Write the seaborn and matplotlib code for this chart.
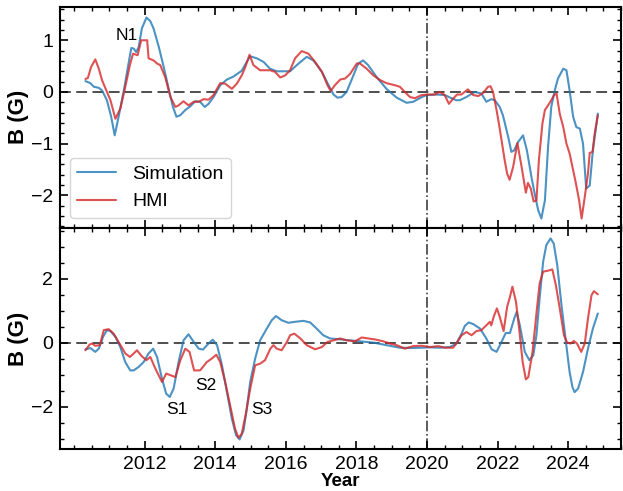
import matplotlib
matplotlib.use("Agg")
import matplotlib.pyplot as plt
import seaborn as sns
import numpy as np
import pandas as pd
from matplotlib.ticker import MultipleLocator

# ---------------- data ----------------
top_sim_year = [2010.32, 2010.46, 2010.56, 2010.70, 2010.79, 2010.93, 2011.05, 2011.15, 2011.26, 2011.41,
                2011.55, 2011.62, 2011.69, 2011.76, 2011.83, 2011.92, 2012.05, 2012.16, 2012.25, 2012.40,
                2012.54, 2012.68, 2012.80, 2012.90, 2013.01, 2013.15, 2013.29, 2013.43, 2013.57, 2013.70,
                2013.81, 2013.95, 2014.14, 2014.33, 2014.52, 2014.75, 2014.89, 2014.99, 2015.18, 2015.37,
                2015.55, 2015.74, 2016.12, 2016.31, 2016.59, 2016.78, 2017.02, 2017.21, 2017.35, 2017.46,
                2017.58, 2017.72, 2017.86, 2018.05, 2018.19, 2018.33, 2018.57, 2018.85, 2019.14, 2019.42,
                2019.61, 2019.85, 2019.99, 2020.27, 2020.50, 2020.69, 2020.83, 2020.93, 2021.11, 2021.35,
                2021.54, 2021.68, 2021.82, 2021.92, 2022.06, 2022.15, 2022.30, 2022.39, 2022.47, 2022.58,
                2022.72, 2022.83, 2022.96, 2023.05, 2023.15, 2023.24, 2023.34, 2023.43, 2023.52, 2023.62,
                2023.71, 2023.86, 2023.95, 2024.04, 2024.14, 2024.23, 2024.33, 2024.42, 2024.51, 2024.61,
                2024.70, 2024.84]
top_sim_b = [0.21, 0.17, 0.10, 0.08, 0.03, -0.16, -0.48, -0.84, -0.48, 0.03,
             0.58, 0.85, 0.84, 0.77, 0.87, 1.23, 1.44, 1.37, 1.23, 0.87,
             0.48, 0.06, -0.29, -0.48, -0.45, -0.35, -0.28, -0.18, -0.19, -0.29,
             -0.23, -0.10, 0.13, 0.24, 0.30, 0.41, 0.58, 0.69, 0.65, 0.58,
             0.45, 0.40, 0.40, 0.52, 0.68, 0.61, 0.39, 0.13, -0.05, -0.11,
             -0.10, 0.00, 0.23, 0.55, 0.61, 0.52, 0.29, 0.06, -0.11, -0.21,
             -0.19, -0.10, -0.06, -0.05, -0.06, -0.12, -0.16, -0.16, -0.10, 0.00,
             -0.03, -0.19, -0.14, -0.16, -0.29, -0.45, -0.87, -1.16, -1.13, -0.97,
             -0.84, -1.13, -1.65, -1.97, -2.29, -2.45, -2.10, -1.06, -0.29, 0.03,
             0.26, 0.45, 0.42, 0.03, -0.48, -0.68, -0.71, -1.00, -1.87, -1.81,
             -1.13, -0.42]

top_hmi_year = [2010.32, 2010.39, 2010.48, 2010.60, 2010.70, 2010.79, 2010.93, 2011.03, 2011.17, 2011.31,
                2011.45, 2011.58, 2011.67, 2011.80, 2011.90, 2012.02, 2012.07, 2012.11, 2012.25, 2012.35,
                2012.44, 2012.58, 2012.73, 2012.87, 2012.96, 2013.10, 2013.24, 2013.39, 2013.53, 2013.67,
                2013.81, 2013.95, 2014.14, 2014.28, 2014.47, 2014.61, 2014.75, 2014.85, 2014.97, 2015.08,
                2015.27, 2015.55, 2015.69, 2015.84, 2015.98, 2016.12, 2016.26, 2016.45, 2016.64, 2016.83,
                2017.02, 2017.18, 2017.27, 2017.39, 2017.54, 2017.68, 2017.82, 2018.01, 2018.10, 2018.29,
                2018.48, 2018.67, 2018.85, 2019.09, 2019.23, 2019.37, 2019.52, 2019.66, 2019.85, 2020.08,
                2020.22, 2020.36, 2020.50, 2020.62, 2020.74, 2020.85, 2020.97, 2021.16, 2021.31, 2021.45,
                2021.59, 2021.73, 2021.80, 2021.87, 2021.97, 2022.06, 2022.20, 2022.27, 2022.34, 2022.44,
                2022.56, 2022.68, 2022.80, 2022.86, 2022.94, 2023.02, 2023.10, 2023.17, 2023.27, 2023.34,
                2023.43, 2023.52, 2023.60, 2023.67, 2023.76, 2023.86, 2023.95, 2024.04, 2024.12, 2024.21,
                2024.31, 2024.38, 2024.47, 2024.56, 2024.61, 2024.69, 2024.75, 2024.84]
top_hmi_b = [0.25, 0.27, 0.48, 0.63, 0.45, 0.23, 0.00, -0.16, -0.52, -0.32,
             0.10, 0.52, 0.74, 0.71, 1.00, 1.00, 1.00, 0.65, 0.61, 0.55,
             0.52, 0.29, -0.10, -0.29, -0.26, -0.18, -0.26, -0.19, -0.19, -0.14,
             -0.15, -0.06, 0.17, 0.16, 0.06, 0.16, 0.32, 0.48, 0.72, 0.52,
             0.42, 0.42, 0.39, 0.28, 0.32, 0.42, 0.65, 0.79, 0.74, 0.58,
             0.39, 0.13, 0.02, 0.13, 0.24, 0.26, 0.35, 0.55, 0.55, 0.45,
             0.32, 0.23, 0.17, 0.13, 0.10, 0.00, -0.10, -0.12, -0.06, -0.05,
             -0.05, 0.00, -0.06, -0.23, -0.13, -0.05, -0.05, 0.05, -0.06, -0.08,
             -0.02, 0.10, 0.11, 0.00, -0.35, -0.71, -1.32, -1.58, -1.70, -1.45,
             -0.99, -1.45, -1.95, -1.76, -1.87, -2.12, -2.10, -1.32, -0.61, -0.35,
             -0.26, -0.16, -0.06, -0.03, -0.42, -0.68, -1.00, -1.19, -1.45, -1.74,
             -2.10, -2.45, -2.03, -1.58, -1.18, -1.16, -0.81, -0.45]

bot_sim_year = [2010.32, 2010.46, 2010.60, 2010.70, 2010.82, 2010.93, 2011.03, 2011.17, 2011.31, 2011.45,
                2011.59, 2011.69, 2011.83, 2011.97, 2012.11, 2012.24, 2012.35, 2012.49, 2012.61, 2012.71,
                2012.82, 2012.96, 2013.10, 2013.24, 2013.39, 2013.53, 2013.65, 2013.81, 2013.93, 2014.05,
                2014.19, 2014.33, 2014.47, 2014.59, 2014.69, 2014.80, 2014.88, 2014.99, 2015.13, 2015.27,
                2015.46, 2015.60, 2015.72, 2015.88, 2016.07, 2016.26, 2016.50, 2016.69, 2016.87, 2017.06,
                2017.25, 2017.54, 2017.82, 2018.10, 2018.48, 2018.85, 2019.23, 2019.61, 2020.08, 2020.36,
                2020.65, 2020.83, 2020.98, 2021.07, 2021.18, 2021.31, 2021.50, 2021.68, 2021.83, 2021.97,
                2022.11, 2022.23, 2022.35, 2022.47, 2022.54, 2022.63, 2022.77, 2022.90, 2023.01, 2023.10,
                2023.19, 2023.29, 2023.38, 2023.50, 2023.59, 2023.69, 2023.81, 2023.93, 2024.04, 2024.12,
                2024.18, 2024.28, 2024.42, 2024.56, 2024.70, 2024.84]
bot_sim_b = [-0.20, -0.16, -0.28, -0.18, 0.19, 0.40, 0.37, 0.19, -0.13, -0.60,
             -0.86, -0.86, -0.75, -0.60, -0.33, -0.18, -0.44, -1.12, -1.59, -1.69,
             -1.43, -0.60, 0.08, 0.27, 0.03, -0.18, -0.21, -0.02, 0.10, -0.07,
             -0.70, -1.54, -2.37, -2.89, -3.02, -2.74, -2.16, -1.22, -0.49, 0.08,
             0.45, 0.71, 0.84, 0.71, 0.63, 0.66, 0.69, 0.64, 0.45, 0.24,
             0.14, 0.11, 0.08, 0.05, 0.01, -0.07, -0.15, -0.16, -0.14, -0.15,
             -0.13, -0.02, 0.29, 0.53, 0.64, 0.59, 0.45, 0.14, -0.20, -0.28,
             0.03, 0.31, 0.31, 0.76, 0.97, 0.55, -0.28, -0.54, -0.39, 0.24,
             1.39, 2.54, 3.06, 3.27, 3.11, 2.43, 1.18, 0.08, -0.91, -1.38,
             -1.54, -1.43, -0.91, -0.18, 0.45, 0.92]

bot_hmi_year = [2010.32, 2010.44, 2010.51, 2010.60, 2010.73, 2010.84, 2010.98, 2011.12, 2011.26, 2011.45,
                2011.58, 2011.69, 2011.78, 2011.92, 2012.05, 2012.16, 2012.30, 2012.49, 2012.61, 2012.73,
                2012.87, 2013.01, 2013.15, 2013.27, 2013.40, 2013.57, 2013.76, 2013.90, 2014.03, 2014.14,
                2014.28, 2014.42, 2014.56, 2014.66, 2014.75, 2014.87, 2014.99, 2015.13, 2015.27, 2015.41,
                2015.56, 2015.65, 2015.74, 2015.88, 2016.03, 2016.12, 2016.24, 2016.41, 2016.59, 2016.83,
                2017.02, 2017.18, 2017.35, 2017.54, 2017.72, 2017.96, 2018.15, 2018.33, 2018.52, 2018.76,
                2018.95, 2019.14, 2019.37, 2019.61, 2019.85, 2020.08, 2020.32, 2020.50, 2020.74, 2020.83,
                2020.98, 2021.12, 2021.26, 2021.40, 2021.54, 2021.68, 2021.78, 2021.82, 2021.89, 2021.98,
                2022.06, 2022.17, 2022.27, 2022.35, 2022.42, 2022.52, 2022.61, 2022.71, 2022.80, 2022.87,
                2022.99, 2023.10, 2023.19, 2023.29, 2023.43, 2023.55, 2023.65, 2023.77, 2023.88, 2023.97,
                2024.07, 2024.16, 2024.25, 2024.37, 2024.47, 2024.56, 2024.66, 2024.73, 2024.84]
bot_hmi_b = [-0.23, -0.05, -0.02, -0.09, -0.07, 0.40, 0.43, 0.29, 0.03, -0.33,
             -0.44, -0.33, -0.23, -0.42, -0.54, -0.44, -0.80, -1.22, -0.96, -1.01,
             -1.07, -0.54, -0.18, -0.28, -0.86, -0.86, -0.60, -0.49, -0.37, -0.60,
             -1.22, -1.95, -2.69, -2.97, -2.84, -2.20, -1.43, -0.70, -0.65, -0.54,
             -0.18, -0.07, -0.18, -0.23, 0.03, 0.24, 0.29, 0.14, -0.07, -0.20,
             -0.13, 0.03, 0.08, 0.14, 0.08, 0.05, 0.17, 0.14, 0.11, 0.05,
             -0.02, -0.07, -0.18, -0.10, -0.09, -0.13, -0.10, -0.15, -0.15, -0.02,
             0.24, 0.34, 0.24, 0.37, 0.40, 0.55, 0.66, 0.55, 0.82, 1.08,
             0.82, 0.37, 1.13, 1.44, 1.76, 1.29, 0.45, -0.60, -1.14, -1.07,
             -0.28, 0.92, 1.86, 2.23, 2.26, 2.30, 1.81, 1.02, 0.24, 0.01,
             -0.02, 0.06, -0.02, -0.28, -0.02, 0.76, 1.49, 1.62, 1.52]

series_labels = ["Simulation", "HMI"]
top_notes = [("N1", 2011.48, 1.10)]
bot_notes = [("S1", 2012.90, -2.09), ("S2", 2013.73, -1.33), ("S3", 2015.33, -2.09)]
x_ticks = [2012, 2014, 2016, 2018, 2020, 2022, 2024]
top_yticks = [-2, -1, 0, 1]
bot_yticks = [-2, 0, 2]

# ---------------- style ----------------
sns.set_style("ticks")
plt.rcParams['font.family'] = ['Liberation Sans', 'DejaVu Sans']
plt.rcParams.update({
    "xtick.direction": "in", "ytick.direction": "in",
    "xtick.top": True, "ytick.right": True,
    "xtick.major.size": 6, "ytick.major.size": 6,
    "xtick.minor.size": 3, "ytick.minor.size": 3,
    "xtick.major.width": 1.2, "ytick.major.width": 1.2,
    "xtick.minor.width": 1.0, "ytick.minor.width": 1.0,
    "axes.linewidth": 1.5, "axes.edgecolor": "black",
    "xtick.color": "black", "ytick.color": "black",
    "text.color": "black", "axes.labelcolor": "black",
    "axes.unicode_minus": True,
})

blue = "#1f77b4"
red = "#d62728"

fig, (ax1, ax2) = plt.subplots(2, 1, sharex=True, figsize=(6.23, 4.91), dpi=100)
fig.subplots_adjust(left=0.0963, right=0.997, top=0.9864, bottom=0.0855, hspace=0)

def draw(ax, sy, sb, hy, hb, legend):
    dfs = pd.DataFrame({"year": sy, "B": sb})
    dfh = pd.DataFrame({"year": hy, "B": hb})
    sns.lineplot(data=dfs, x="year", y="B", ax=ax, color=blue, alpha=0.8, lw=1.5,
                 label=series_labels[0] if legend else None, sort=False, estimator=None)
    sns.lineplot(data=dfh, x="year", y="B", ax=ax, color=red, alpha=0.8, lw=1.5,
                 label=series_labels[1] if legend else None, sort=False, estimator=None)
    ax.axhline(0, color="black", alpha=0.75, lw=1.3, ls=(0, (6, 3)), zorder=1)
    ax.axvline(2020, color="black", alpha=0.75, lw=1.2, ls="-.", zorder=1)
    ax.set_ylabel("B (G)", fontsize=16, fontweight="bold", labelpad=1, color="black")
    ax.tick_params(which="both", direction="in", top=True, right=True, colors="black")
    ax.tick_params(which="major", labelsize=14, pad=5)
    ax.xaxis.set_minor_locator(MultipleLocator(0.5))

draw(ax1, top_sim_year, top_sim_b, top_hmi_year, top_hmi_b, True)
draw(ax2, bot_sim_year, bot_sim_b, bot_hmi_year, bot_hmi_b, False)

ax1.set_xlim(2009.6, 2025.5)
ax1.set_ylim(-2.63, 1.65)
ax1.set_yticks(top_yticks)
ax1.yaxis.set_minor_locator(MultipleLocator(0.2))
ax2.set_ylim(-3.32, 3.6)
ax2.set_yticks(bot_yticks)
ax2.yaxis.set_minor_locator(MultipleLocator(0.5))
ax2.set_xticks(x_ticks)
ax2.set_xlabel("Year", fontsize=13.5, fontweight="bold", labelpad=0, color="black")

for txt, x, y in top_notes:
    ax1.text(x, y, txt, fontsize=12.5, ha="center", va="center", color="black")
for txt, x, y in bot_notes:
    ax2.text(x, y, txt, fontsize=12.5, ha="center", va="center", color="black")

leg = ax1.legend(loc="lower left", fontsize=14, frameon=True)
for t in leg.get_texts():
    t.set_color("black")

fig.savefig("out.png", dpi=100)
